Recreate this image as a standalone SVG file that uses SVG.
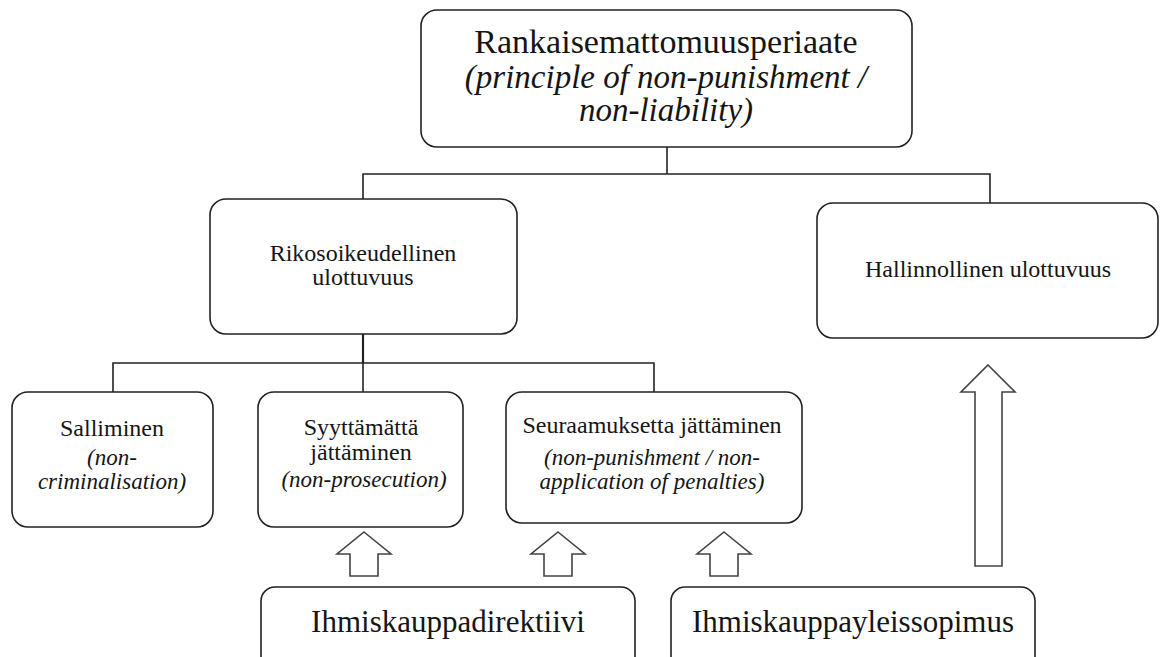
<svg xmlns="http://www.w3.org/2000/svg" width="1160" height="657" viewBox="0 0 1160 657">
<style>
.box{fill:#fff;stroke:#222;stroke-width:1.6}
.conn{fill:none;stroke:#222;stroke-width:1.6}
.arrow{fill:#fff;stroke:#444;stroke-width:1.6;stroke-linejoin:miter}
text{font-family:"Liberation Serif","Times New Roman",serif;fill:#151515;text-anchor:middle}
.t24{font-size:24px}
.i24{font-size:23px;font-style:italic}
.t34{font-size:34px}
.i34{font-size:33px;font-style:italic}
.t31{font-size:31px}
</style>
<rect width="1160" height="657" fill="#fff"/>
<g id="connectors">
<polyline class="conn" points="667,147 667,174"/>
<polyline class="conn" points="363,199 363,174 990,174 990,203"/>
<polyline class="conn" points="363,334 363,363" style="stroke-width:2.2"/>
<polyline class="conn" points="113,392 113,363 654,363 654,392"/>
<polyline class="conn" points="363,363 363,392"/>
</g>
<g id="node-top">
<rect class="box" x="421" y="10" width="491" height="137" rx="16"/>
<text class="t34" x="666" y="53">Rankaisemattomuusperiaate</text>
<text class="i34" x="666" y="88">(principle of non-punishment /</text>
<text class="i34" x="666" y="121">non-liability)</text>
</g>
<g id="node-rikos">
<rect class="box" x="210" y="199" width="307" height="135" rx="16"/>
<text class="t24" x="363" y="261">Rikosoikeudellinen</text>
<text class="t24" x="363" y="285">ulottuvuus</text>
</g>
<g id="node-hallinnollinen">
<rect class="box" x="817" y="203" width="341" height="135" rx="16"/>
<text class="t24" x="988" y="277">Hallinnollinen ulottuvuus</text>
</g>
<g id="node-salliminen">
<rect class="box" x="12" y="392" width="201" height="135" rx="16"/>
<text class="t24" x="112" y="436">Salliminen</text>
<text class="i24" x="112" y="465">(non-</text>
<text class="i24" x="112" y="489">criminalisation)</text>
</g>
<g id="node-syyttamatta">
<rect class="box" x="258" y="392" width="205" height="135" rx="16"/>
<text class="t24" x="361" y="435">Syyttämättä</text>
<text class="t24" x="361" y="460">jättäminen</text>
<text class="i24" x="364" y="487">(non-prosecution)</text>
</g>
<g id="node-seuraamuksetta">
<rect class="box" x="506" y="392" width="296" height="131" rx="16"/>
<text class="t24" x="652" y="433">Seuraamuksetta jättäminen</text>
<text class="i24" x="652" y="465">(non-punishment / non-</text>
<text class="i24" x="652" y="489">application of penalties)</text>
</g>
<g id="node-direktiivi">
<rect class="box" x="261" y="587" width="374" height="90" rx="14"/>
<text class="t31" x="448" y="632">Ihmiskauppadirektiivi</text>
</g>
<g id="node-yleissopimus">
<rect class="box" x="671" y="587" width="364" height="90" rx="14"/>
<text class="t31" x="853" y="632">Ihmiskauppayleissopimus</text>
</g>
<g id="block-arrows">
<polygon class="arrow" points="364,532 391,554 378,554 378,576 350,576 350,554 337,554"/>
<polygon class="arrow" points="558,532 585,554 572,554 572,576 544,576 544,554 531,554"/>
<polygon class="arrow" points="724,532 751,554 738,554 738,576 710,576 710,554 697,554"/>
<polygon class="arrow" points="988,365 1015,392 1002,392 1002,566 975,566 975,392 961,392"/>
</g>
</svg>
